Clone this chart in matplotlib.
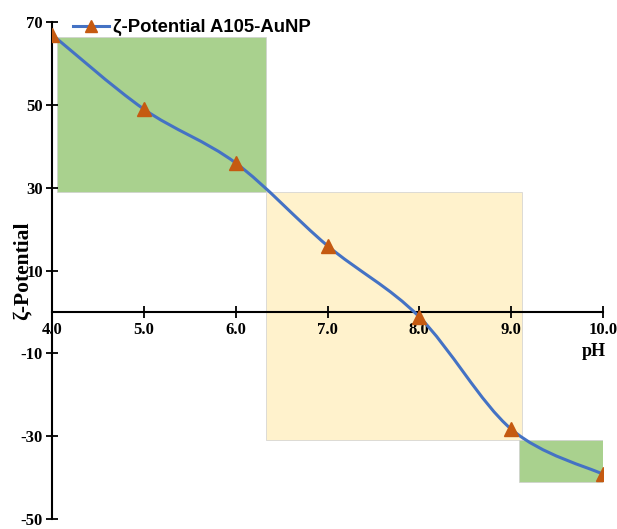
import numpy as np
import matplotlib.pyplot as plt
from matplotlib.path import Path
from matplotlib.patches import PathPatch, Rectangle
from matplotlib.lines import Line2D

plt.rcParams["axes.unicode_minus"] = False

ph = [4.0, 5.0, 6.0, 7.0, 8.0, 9.0, 10.0]
zeta = [67, 49, 36, 16, -1.2, -28.3, -39.2]

# shaded stability bands: (x0, x1, y0, y1, colour)
bands = [
    (4.05, 6.33, 28.9, 66.5, "#a9d18e"),
    (6.33, 9.12, -31.0, 28.9, "#fff2cc"),
    (9.09, 10.01, -41.0, -30.9, "#a9d18e"),
]

xticks = [4, 5, 6, 7, 8, 9, 10]
yticks = [70, 50, 30, 10, -10, -30, -50]

serif = ["Liberation Serif", "DejaVu Serif"]

fig = plt.figure(figsize=(6.17, 5.29), dpi=100)
ax = fig.add_axes([0.0843, 0.019, 0.893, 0.939])
ax.set_xlim(4, 10)
ax.set_ylim(-50, 70)

for x0, x1, y0, y1, c in bands:
    ax.add_patch(Rectangle((x0, y0), x1 - x0, y1 - y0, facecolor=c,
                           edgecolor="#cfcfcf", lw=0.5, zorder=1))

# smoothed line through the points (Catmull-Rom as cubic Bezier)
pts = np.column_stack([ph, zeta])
ext = np.vstack([pts[0], pts, pts[-1]])
verts = [tuple(pts[0])]
codes = [Path.MOVETO]
for i in range(1, len(ext) - 2):
    p0, p1, p2, p3 = ext[i - 1], ext[i], ext[i + 1], ext[i + 2]
    c1 = p1 + (p2 - p0) / 6
    c2 = p2 - (p3 - p1) / 6
    verts += [tuple(c1), tuple(c2), tuple(p2)]
    codes += [Path.CURVE4] * 3
ax.add_patch(PathPatch(Path(verts, codes), facecolor="none",
                       edgecolor="#4472c4", lw=2.2, zorder=3))
ax.plot(ph, zeta, ls="none", marker="^", ms=10, color="#c55a11", zorder=4)

ax.spines["left"].set_position(("data", 4))
ax.spines["bottom"].set_position(("data", 0))
ax.spines["top"].set_visible(False)
ax.spines["right"].set_visible(False)
for s in ("left", "bottom"):
    ax.spines[s].set_linewidth(1.5)
    ax.spines[s].set_zorder(2)

ax.set_xticks(xticks)
ax.set_xticklabels([f"{v:.1f}" for v in xticks])
ax.set_yticks(yticks)
ax.tick_params(direction="inout", length=9, width=1.3)
for lab in ax.get_xticklabels() + ax.get_yticklabels():
    lab.set_fontfamily(serif)
    lab.set_fontweight("bold")
    lab.set_fontsize(12)
ax.tick_params(axis="x", pad=3)
ax.tick_params(axis="y", pad=2)

ax.set_ylabel("ζ-Potential", fontfamily=serif, fontweight="bold", fontsize=15.5)
ax.yaxis.set_label_coords(-0.036, 0.50)
ax.text(9.9, -9.6, "pH", fontfamily=serif, fontweight="bold", fontsize=13,
        ha="center", va="center")

handle = Line2D([], [], color="#4472c4", lw=2.2, marker="^", ms=9,
                markerfacecolor="#c55a11", markeredgecolor="#c55a11")
ax.legend([handle], ["ζ-Potential A105-AuNP"], loc="upper left",
          bbox_to_anchor=(0.0255, 1.021), frameon=False, handlelength=1.95,
          handletextpad=0.2, borderaxespad=0,
          prop={"family": ["Liberation Sans", "DejaVu Sans"], "weight": "bold", "size": 13.3})

fig.savefig("out.png", dpi=100)
